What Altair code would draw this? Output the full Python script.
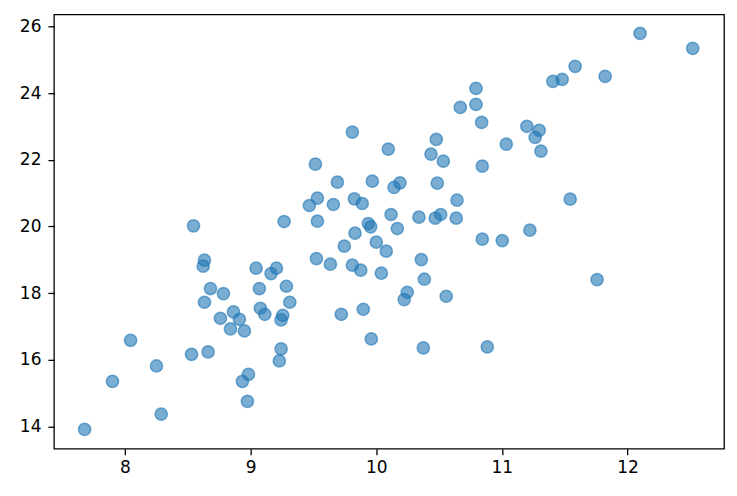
import altair as alt
import pandas as pd

x_vals = [
    8.546, 9.267, 8.633, 8.623, 9.044, 9.206, 9.163, 8.681, 8.784, 9.070,
    9.285, 8.633, 9.312, 9.078, 9.113, 8.864, 8.760, 8.911, 9.256, 9.243,
    8.840, 8.951, 8.045, 8.530, 8.662, 9.243, 9.229, 8.251, 7.901, 8.983,
    8.935, 8.975, 8.289, 7.679,
    10.794, 10.794, 10.669, 10.839, 9.810, 10.478, 10.096, 10.436, 10.534, 11.035,
    10.844, 9.516, 9.691, 9.969, 10.189, 10.142, 10.486, 10.643, 9.532, 9.468,
    9.659, 9.826, 9.889, 9.532, 10.118, 10.340, 10.470, 10.513, 10.637, 9.937,
    9.956, 10.168, 9.831,
    10.844, 11.003, 9.746, 10.001, 10.080, 9.524, 9.635, 9.810, 9.877, 10.041,
    10.359, 10.383, 10.247, 10.223, 10.557, 9.722, 9.897, 9.961, 10.375, 10.884,
    12.100, 12.519, 11.583, 11.822, 11.480, 11.406, 11.199, 11.297, 11.265, 11.311,
    11.544, 11.223, 11.758,
]
y_vals = [
    20.02, 20.15, 18.99, 18.81, 18.75, 18.75, 18.59, 18.14, 17.99, 18.14,
    18.21, 17.73, 17.73, 17.55, 17.37, 17.44, 17.25, 17.22, 17.34, 17.20,
    16.93, 16.87, 16.59, 16.17, 16.24, 16.33, 15.97, 15.82, 15.36, 15.57,
    15.36, 14.76, 14.38, 13.92,
    24.14, 23.66, 23.57, 23.12, 22.83, 22.61, 22.32, 22.17, 21.96, 22.47,
    21.81, 21.87, 21.33, 21.36, 21.31, 21.17, 21.30, 20.79, 20.85, 20.63,
    20.66, 20.83, 20.69, 20.16, 20.36, 20.28, 20.25, 20.36, 20.25, 20.09,
    19.99, 19.94, 19.80,
    19.62, 19.58, 19.41, 19.53, 19.26, 19.04, 18.87, 18.84, 18.69, 18.60,
    19.01, 18.42, 18.03, 17.81, 17.91, 17.37, 17.52, 16.63, 16.36, 16.39,
    25.79, 25.34, 24.80, 24.50, 24.41, 24.35, 23.005, 22.88, 22.67, 22.26,
    20.82, 19.89, 18.41,
]
x_ticks = [8, 9, 10, 11, 12]
y_ticks = [14, 16, 18, 20, 22, 24, 26]

df = pd.DataFrame({"x": x_vals, "y": y_vals})

axis_common = dict(
    grid=False,
    domain=False,
    tickColor="black",
    tickWidth=1.3,
    tickSize=6,
    labelFont="DejaVu Sans",
    labelFontSize=17,
    labelColor="black",
    title=None,
)

chart = (
    alt.Chart(df)
    .mark_circle(
        size=150,
        color="#1f77b4",
        fillOpacity=0.6,
        stroke="#1f77b4",
        strokeOpacity=0.6,
        strokeWidth=1.5,
    )
    .encode(
        x=alt.X(
            "x:Q",
            scale=alt.Scale(domain=[7.435, 12.768], nice=False, zero=False),
            axis=alt.Axis(values=x_ticks, labelPadding=5, **axis_common),
        ),
        y=alt.Y(
            "y:Q",
            scale=alt.Scale(domain=[13.34, 26.36], nice=False, zero=False),
            axis=alt.Axis(values=y_ticks, labelPadding=7, **axis_common),
        ),
    )
    .properties(
        width=671,
        height=435,
        background="white",
        autosize=alt.AutoSizeParams(type="none"),
        padding={"left": 46, "top": 6, "right": 5, "bottom": 40},
    )
    .configure_view(stroke="black", strokeWidth=1.3)
)

chart.save("out.html", embed_options={"renderer": "svg", "actions": False})
